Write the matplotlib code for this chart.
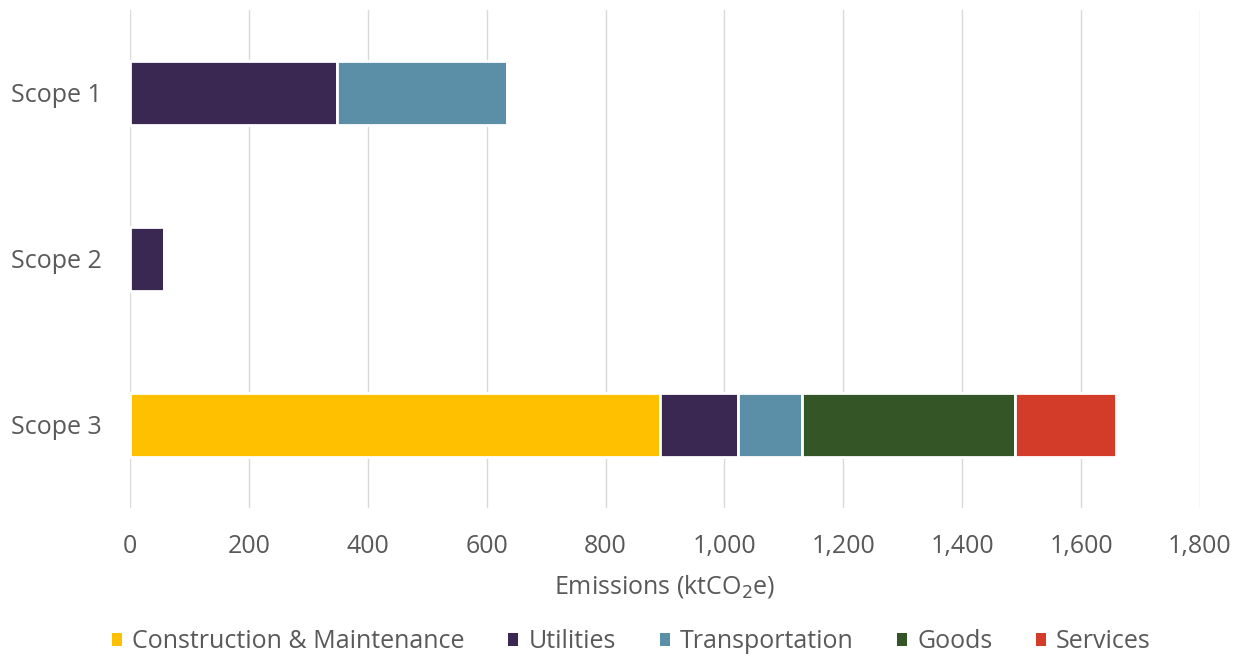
import matplotlib
matplotlib.use("Agg")
import matplotlib.pyplot as plt
from matplotlib.patches import Patch
from matplotlib.ticker import FuncFormatter

plt.rcParams['font.family'] = ['Open Sans', 'DejaVu Sans']

scopes = ["Scope 1", "Scope 2", "Scope 3"]
sectors = ["Construction & Maintenance", "Utilities", "Transportation", "Goods", "Services"]
colors = ["#FFC000", "#3A2752", "#5B8FA8", "#345627", "#D33C28"]

# emissions in ktCO2e, one list per sector (Scope 1, Scope 2, Scope 3)
construction = [0, 0, 892]
utilities = [349, 58, 131]
transportation = [286, 0, 108]
goods = [0, 0, 358]
services = [0, 0, 170]
values = [construction, utilities, transportation, goods, services]

grey = "#595959"

fig = plt.figure(figsize=(12.41, 6.56), dpi=100)
ax = fig.add_axes([130 / 1241, 148 / 656, 1070 / 1241, 498 / 656])

left = [0, 0, 0]
for name, vals, c in zip(sectors, values, colors):
    ax.barh(scopes, vals, left=left, height=0.38, color=c,
            edgecolor="white", linewidth=2)
    left = [a + b for a, b in zip(left, vals)]

ax.set_xlim(0, 1800)
ax.set_ylim(2.5, -0.5)
ax.set_xticks(range(0, 1801, 200))
ax.xaxis.set_major_formatter(FuncFormatter(lambda v, p: f"{int(v):,}"))
ax.grid(axis="x", color="#D9D9D9", linewidth=1)
ax.set_axisbelow(True)
for s in ax.spines.values():
    s.set_visible(False)
ax.tick_params(length=0, labelsize=18, colors=grey, pad=19)
ax.tick_params(axis="y", pad=20)
ax.set_xlabel("Emissions (ktCO$_2$e)", fontsize=18, color=grey, labelpad=10)

handles = [Patch(facecolor=c, label=n) for n, c in zip(sectors, colors)]
leg = fig.legend(handles=handles, loc="center",
                 bbox_to_anchor=(0.5 + 11 / 1241, 14 / 656),
                 ncol=5, frameon=False, fontsize=18, handlelength=0.4,
                 handleheight=0.4, handletextpad=0.4, columnspacing=1.75)
for t in leg.get_texts():
    t.set_color(grey)

fig.savefig("out.png", dpi=100)
